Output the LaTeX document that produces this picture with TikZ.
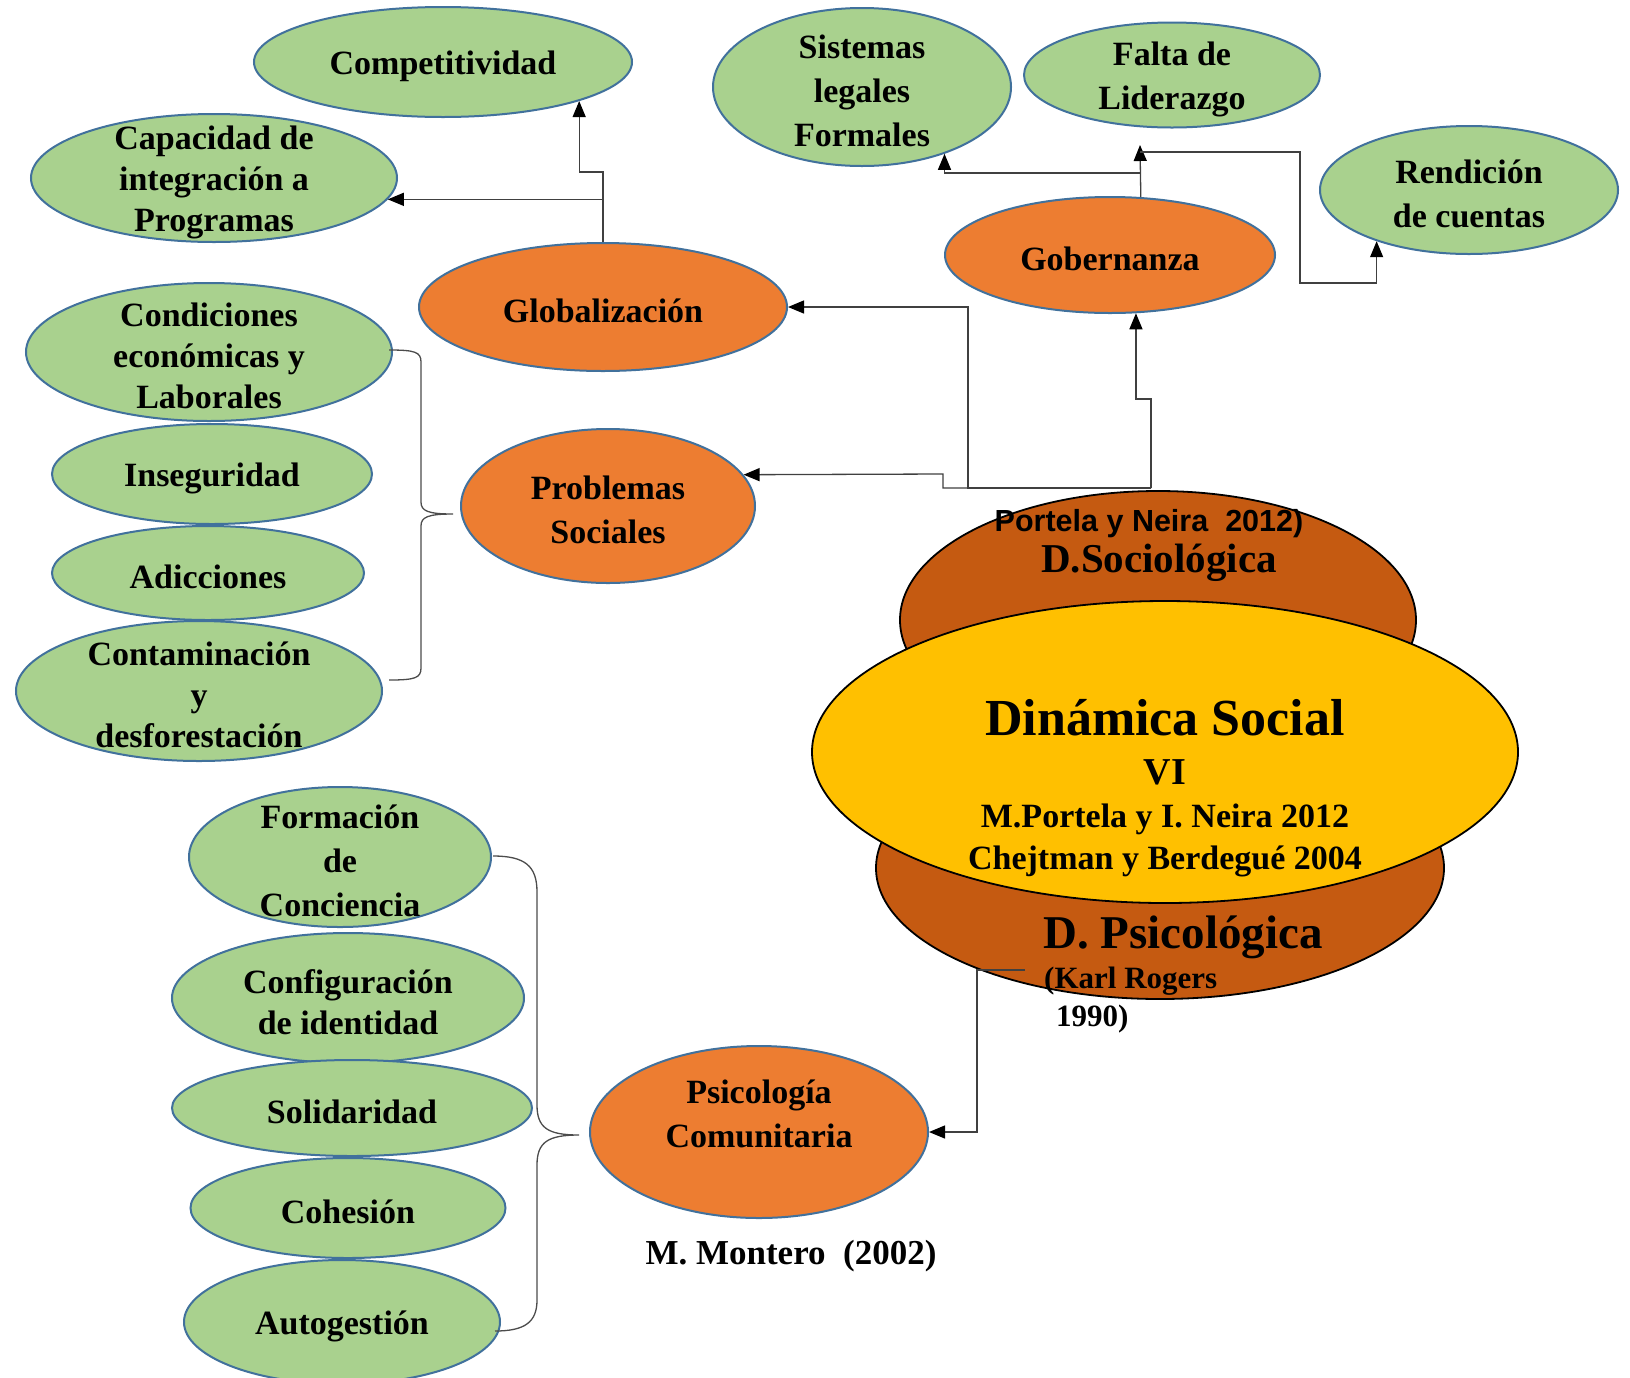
\documentclass[tikz,border=0pt]{standalone}
\usepackage{fontspec}
\setmainfont{Liberation Serif}
\newfontfamily\arialfont{Liberation Sans}
\usetikzlibrary{shapes.geometric,arrows.meta}
\definecolor{gfill}{HTML}{A9D18E}
\definecolor{ofill}{HTML}{ED7D31}
\definecolor{bline}{HTML}{41719C}
\definecolor{dbrown}{HTML}{C55A11}
\definecolor{yfill}{HTML}{FFC000}
\newcommand{\bub}[8]{%
  \node[#2,minimum width=#5pt,minimum height=#6pt] (#1) at (#3,#4) {};
  \node[txt,#7] (#1T) at (#3,#4+4) {#8};}
\begin{document}
\begin{tikzpicture}[x=1pt,y=-1pt,
  gbub/.style={ellipse, draw=bline, line width=2pt, fill=gfill, inner sep=0pt},
  obub/.style={ellipse, draw=bline, line width=2pt, fill=ofill, inner sep=0pt},
  cbub/.style={ellipse, draw=black, line width=1.8pt, inner sep=0pt},
  txt/.style={align=center, inner sep=0pt, font=\fontsize{34}{41}\selectfont\bfseries},
  wide/.style={font=\fontsize{34}{44}\selectfont\bfseries},
  btxt/.style={inner sep=0pt, font=\fontsize{#1}{#1}\selectfont\bfseries},
  conn/.style={draw=black!75, line width=1.3pt, -{Triangle[length=16pt,width=13pt,color=black]}},
  brace/.style={draw=black!70, line width=1.3pt}
]
\clip (0,0) rectangle (1630,1377);
\fill[white] (0,0) rectangle (1630,1377);

% green ellipses
\bub{comp}{gbub}{443}{62}{378}{110}{}{Competitividad}
\bub{cap}{gbub}{214}{178}{366}{128}{}{Capacidad de\\integración a\\Programas}
\bub{sist}{gbub}{862}{87}{298}{158}{wide}{Sistemas\\legales\\Formales}
\bub{falta}{gbub}{1172}{75}{296}{105}{wide}{Falta de\\Liderazgo}
\bub{rend}{gbub}{1469}{190}{298}{128}{wide}{Rendición\\de cuentas}
\bub{cond}{gbub}{209}{352}{366}{138}{}{Condiciones\\económicas y\\Laborales}
\bub{inseg}{gbub}{212}{474}{320}{100}{}{Inseguridad}
\bub{adic}{gbub}{208}{573}{312}{94}{}{Adicciones}
\bub{cont}{gbub}{199}{691}{366}{140}{}{Contaminación\\y\\desforestación}
\bub{form}{gbub}{340}{857}{302}{140}{wide}{Formación\\de\\Conciencia}
\bub{conf}{gbub}{348}{998}{352}{130}{}{Configuración\\de identidad}
\bub{soli}{gbub}{352}{1108}{360}{96}{}{Solidaridad}
\bub{cohe}{gbub}{348}{1208}{315}{100}{}{Cohesión}
\bub{auto}{gbub}{342}{1322}{316}{124}{}{Autogestión}

% orange ellipses
\bub{glob}{obub}{603}{307}{368}{128}{}{Globalización}
\bub{gob}{obub}{1110}{255}{330}{116}{}{Gobernanza}
\bub{prob}{obub}{608}{506}{294}{154}{wide}{Problemas\\Sociales}
\node[obub, minimum width=338pt, minimum height=172pt] (psic) at (759,1132) {};
\node[txt,wide] (psicT) at (759,1114) {Psicología\\Comunitaria};

% central shape
\node[cbub, fill=dbrown, minimum width=516pt, minimum height=258pt] (dsoc) at (1158,620) {};
\node[cbub, fill=dbrown, minimum width=568pt, minimum height=262pt] (dpsi) at (1160,868) {};
\node[cbub, fill=yfill, minimum width=706pt, minimum height=302pt] (din) at (1165,752) {};

\node[inner sep=0pt, font=\arialfont\bfseries\fontsize{30.5}{36}\selectfont] (portela) at (1149,524) {Portela y Neira\ \ 2012)};
\node[btxt=41] (dsocT) at (1159,563) {D.Sociológica};
\node[btxt=52] (dinT) at (1165,718) {Dinámica Social};
\node[btxt=38] (vi) at (1165,772) {VI};
\node[btxt=34] (mp) at (1165,819) {M.Portela y I. Neira 2012};
\node[btxt=34] (chej) at (1165,861) {Chejtman y Berdegué 2004};
\node[btxt=47] (dpsiT) at (1183,937) {D. Psicológica};
\node[inner sep=0pt, anchor=west, align=left, font=\fontsize{31}{38}\selectfont\bfseries] (karl) at (1044,1000) {(Karl Rogers\\\hspace*{12pt}1990)};
\node[btxt=35] (mont) at (791,1256) {M. Montero\ \ (2002)};

% connectors
\coordinate (hub) at (1151,488);
\draw[conn] (hub) -- (1151,399) -| (gob.-66);
\draw[conn] (hub) -| (968,307) -- (glob.east);
\draw[conn] (hub) -| (943,474) -- (prob.13);

\coordinate (faltaIn) at (1140,145);
\coordinate (gj1) at (1140,173);
\coordinate (gj2) at (1140,152);
\draw[conn] (gob.62) -- (faltaIn);
\draw[conn] (gj1) -| (sist.-39);
\draw[conn] (gj2) -| (1300,283) -| (rend.-151);

\draw[conn] (glob.north) |- (cap.-7);
\draw[conn] (glob.north) -- ++(0,-70) -| (comp.-16);

\coordinate (pj) at (1025,970);
\draw[conn] (pj) -| (977,1132) -- (psic.east);

% braces
\draw[brace] (389,350) .. controls (415,350) and (421,352) .. (421,362) -- (421,502)
  .. controls (421,511) and (428,514) .. (453,514)
  .. controls (428,514) and (421,517) .. (421,526) -- (421,668)
  .. controls (421,678) and (415,680) .. (389,680);
\draw[brace] (493,856) .. controls (525,856) and (537,866) .. (537,892) -- (537,1105)
  .. controls (537,1128) and (548,1135) .. (579,1135)
  .. controls (548,1135) and (537,1142) .. (537,1165) -- (537,1300)
  .. controls (537,1322) and (525,1331) .. (495,1331);
\end{tikzpicture}
\end{document}
